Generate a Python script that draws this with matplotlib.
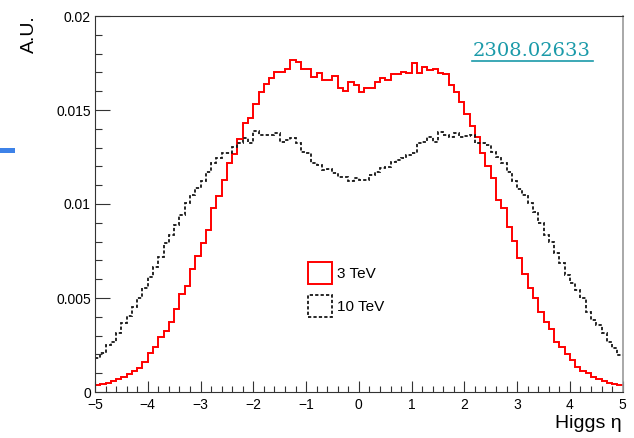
import numpy as np
import matplotlib
matplotlib.use("Agg")
import matplotlib.pyplot as plt
from matplotlib.patches import Patch, Rectangle
from matplotlib.lines import Line2D
from matplotlib.ticker import MultipleLocator

plt.rcParams["font.family"] = ["Liberation Sans", "DejaVu Sans"]

# 100 bins of width 0.1 in eta
ETA_EDGES = np.linspace(-5, 5, 101)

HIST_3TEV = [
    0.00037, 0.00040, 0.00046, 0.00059, 0.00069, 0.00082, 0.00096, 0.00112, 0.00129, 0.00161,
    0.00206, 0.00238, 0.00294, 0.00325, 0.00374, 0.00440, 0.00520, 0.00564, 0.00653, 0.00725,
    0.00794, 0.00862, 0.00977, 0.01043, 0.01128, 0.01220, 0.01268, 0.01347, 0.01433, 0.01455,
    0.01530, 0.01594, 0.01637, 0.01672, 0.01700, 0.01700, 0.01720, 0.01766, 0.01754, 0.01720,
    0.01720, 0.01677, 0.01699, 0.01660, 0.01660, 0.01681, 0.01616, 0.01600, 0.01647, 0.01635,
    0.01598, 0.01616, 0.01616, 0.01651, 0.01672, 0.01660, 0.01690, 0.01690, 0.01704, 0.01695,
    0.01752, 0.01695, 0.01727, 0.01713, 0.01720, 0.01699, 0.01692, 0.01633, 0.01594, 0.01544,
    0.01479, 0.01417, 0.01356, 0.01273, 0.01200, 0.01140, 0.01023, 0.00977, 0.00880, 0.00803,
    0.00711, 0.00626, 0.00555, 0.00502, 0.00427, 0.00374, 0.00334, 0.00268, 0.00241, 0.00202,
    0.00170, 0.00135, 0.00113, 0.00103, 0.00081, 0.00069, 0.00059, 0.00050, 0.00043, 0.00039,
]

HIST_10TEV = [
    0.00179, 0.00206, 0.00250, 0.00268, 0.00312, 0.00365, 0.00404, 0.00454, 0.00498, 0.00552,
    0.00613, 0.00663, 0.00717, 0.00791, 0.00835, 0.00888, 0.00942, 0.01004, 0.01048, 0.01084,
    0.01124, 0.01172, 0.01217, 0.01243, 0.01270, 0.01273, 0.01305, 0.01323, 0.01350, 0.01323,
    0.01390, 0.01367, 0.01367, 0.01367, 0.01380, 0.01332, 0.01341, 0.01350, 0.01323, 0.01279,
    0.01273, 0.01217, 0.01208, 0.01181, 0.01185, 0.01163, 0.01146, 0.01146, 0.01124, 0.01140,
    0.01128, 0.01130, 0.01154, 0.01172, 0.01190, 0.01199, 0.01225, 0.01234, 0.01243, 0.01261,
    0.01270, 0.01323, 0.01332, 0.01358, 0.01332, 0.01385, 0.01367, 0.01358, 0.01376, 0.01358,
    0.01362, 0.01367, 0.01323, 0.01323, 0.01314, 0.01279, 0.01252, 0.01217, 0.01172, 0.01120,
    0.01080, 0.01048, 0.01004, 0.00959, 0.00897, 0.00835, 0.00800, 0.00738, 0.00685, 0.00622,
    0.00578, 0.00543, 0.00498, 0.00427, 0.00383, 0.00356, 0.00312, 0.00268, 0.00232, 0.00197,
]

XTICKS = [-5, -4, -3, -2, -1, 0, 1, 2, 3, 4, 5]
XTICK_LABELS = ["\u22125", "\u22124", "\u22123", "\u22122", "\u22121", "0", "1", "2", "3", "4", "5"]
YTICKS = [0, 0.005, 0.01, 0.015, 0.02]
YTICK_LABELS = ["0", "0.005", "0.01", "0.015", "0.02"]
LABELS = ["3 TeV", "10 TeV"]

RED = "#ff0000"
BLACK = "#161616"
DOTTED = (0, (1.8, 1.2))

W, H = 634, 438
fig = plt.figure(figsize=(W / 100, H / 100), dpi=100)
ax = fig.add_axes([95 / W, 1 - 392 / H, 527.7 / W, 376 / H])

ax.stairs(HIST_3TEV, ETA_EDGES, color=RED, lw=1.4, baseline=None)
ax.stairs(HIST_10TEV, ETA_EDGES, color=BLACK, lw=1.3, linestyle=DOTTED, baseline=None)

ax.set_xlim(-5, 5)
ax.set_ylim(0, 0.02)
ax.set_xticks(XTICKS, XTICK_LABELS)
ax.set_yticks(YTICKS, YTICK_LABELS)
ax.xaxis.set_minor_locator(MultipleLocator(0.2))
ax.yaxis.set_minor_locator(MultipleLocator(0.001))
ax.tick_params(which="both", direction="in", top=False, right=False,
               labelsize=10, color="#333333")
ax.tick_params(axis="y", which="major", length=10.8, width=0.8, pad=3)
ax.tick_params(axis="y", which="minor", length=5.3, width=0.8)
ax.tick_params(axis="x", which="major", length=8, width=0.8, pad=4)
ax.tick_params(axis="x", which="minor", length=4.3, width=0.8)

for side in ("left", "bottom", "top"):
    ax.spines[side].set_linewidth(0.8)
    ax.spines[side].set_color("#333333")
ax.spines["right"].set_linewidth(1.2)
ax.spines["right"].set_color("#9a9a9a")

# legend: open boxes like the ROOT TLegend
handles = [
    Patch(facecolor="none", edgecolor=RED, lw=1.4, label=LABELS[0]),
    Patch(facecolor="none", edgecolor=BLACK, lw=1.3, linestyle=DOTTED, label=LABELS[1]),
]
ax.legend(handles=handles, loc="upper left",
          bbox_to_anchor=(308 / W, 1 - 262 / H), bbox_transform=fig.transFigure,
          frameon=False, fontsize=11, handlelength=1.57, handleheight=1.83,
          handletextpad=0.33, labelspacing=0.72, borderpad=0, borderaxespad=0)

fig.text(29 / W, 1 - 15 / H, "A.U.", rotation=90, ha="center", va="top", fontsize=14)
fig.text(622 / W, 1 - 428 / H, "Higgs \u03b7", ha="right", va="baseline", fontsize=14)

# arXiv link and the slide's blue mark
LINK = "#1a9aa9"
fig.text(532 / W, 1 - 51 / H, "2308.02633", color=LINK, family="DejaVu Serif",
         fontsize=14, ha="center", va="center")
fig.add_artist(Line2D([472 / W, 593 / W], [1 - 60.5 / H] * 2, color=LINK, lw=1.2))
fig.add_artist(Rectangle((0, 1 - 153 / H), 15 / W, 5 / H, transform=fig.transFigure,
                         color="#3d82e8", lw=0))

fig.savefig("out.png", dpi=100)
